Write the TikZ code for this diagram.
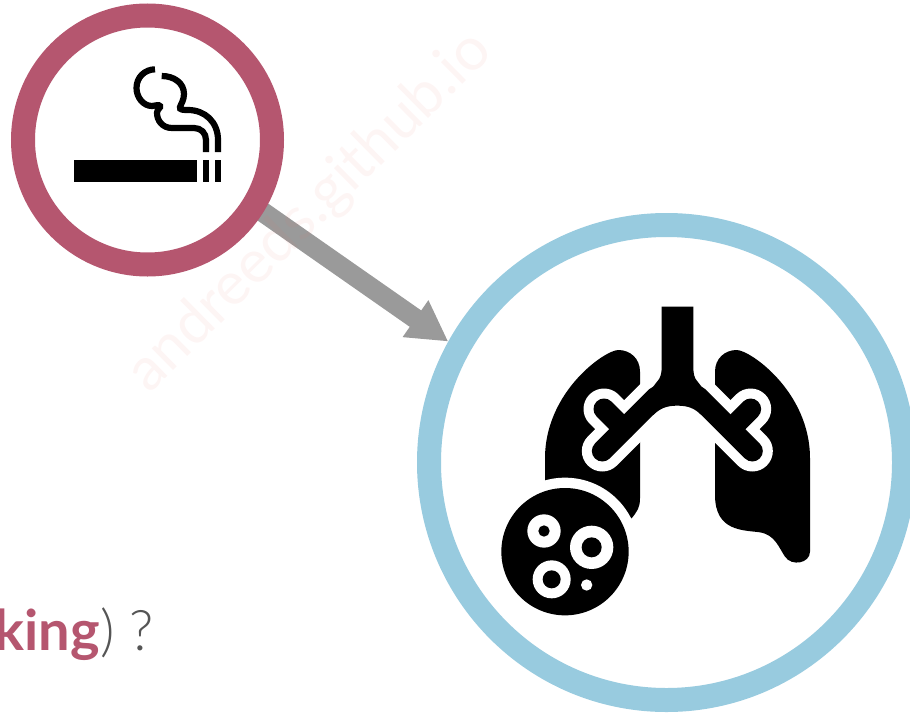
\documentclass[tikz,border=0pt]{standalone}
\usepackage{fontspec}
\setmainfont{Lato}
\newfontfamily\thinFont{Lato Light}
\usetikzlibrary{
  arrows.meta,
  backgrounds
}
\definecolor{riskRose}{HTML}{B5566F}
\definecolor{organBlue}{HTML}{98CBDF}
\definecolor{arrowGray}{HTML}{9A9A9A}
\definecolor{textGray}{HTML}{555555}
\definecolor{stampPink}{HTML}{E8706A}
\tikzset{
  ringNode/.style={circle, line width=24pt, fill=white, inner sep=0pt},
  causeArrow/.style={
    -{Triangle[length=40pt,width=42pt]},
    line width=20pt,
    arrowGray,
    shorten <=-8pt
  },
  smokeLine/.style={line width=6.2pt, black},
  airwayHalo/.style={white, line width=41pt, line cap=round, line join=round},
  airwayCore/.style={black, line width=21pt, line cap=round, line join=round},
  stampText/.style={
    font=\fontsize{60}{70}\selectfont,
    text=stampPink,
    text opacity=0.07,
    inner sep=0pt
  }
}
\begin{document}
\begin{tikzpicture}[x=1pt,y=-1pt]
  \useasboundingbox (0,0) rectangle (910,712);
  \clip (0,0) rectangle (910,712);

  \node[ringNode, draw=riskRose, minimum size=249pt] (smoker) at (147.5,140) {};
  \node[ringNode, draw=organBlue, minimum size=451pt+24pt] (cancer) at (666.5,462.5) {};
  \begin{scope}[on background layer]
    \draw[causeArrow] (smoker.-32.7) -- (cancer.151);
  \end{scope}

  % cigarette
  \fill (74,160) rectangle (197.3,182);
  \fill (203.3,160) rectangle (209,182);
  \fill (215,160) rectangle (221,182);
  \draw[smokeLine] (218,152) -- (218,140)
    .. controls (218,122) and (205,110) .. (188,110)
    .. controls (184,110) and (179,110) .. (180,107)
    .. controls (181,104) and (184,100) .. (184,94)
    .. controls (184,83) and (174,76) .. (161.7,76);
  \draw[smokeLine] (206,152) -- (206,140)
    .. controls (206,133) and (201,128) .. (194,128)
    -- (172,128)
    .. controls (162,128) and (157,120) .. (157,113)
    .. controls (157,109) and (161,108) .. (160,106)
    .. controls (159,104) and (155,106) .. (152,106)
    .. controls (143,106) and (136.5,97) .. (136.5,88)
    .. controls (136.5,77) and (145,69.5) .. (155,69.3);

  % lungs, in units of a third of a pixel
  \begin{scope}[shift={(490,295)}, x=1/3*1pt, y=-1/3*1pt]
    \fill (450,230) .. controls (450,190) and (420,165) .. (385,165)
      .. controls (345,165) and (165,290) .. (165,490)
      -- (165,640) -- (425,670)
      .. controls (440,650) and (450,640) .. (450,610) -- cycle;
    \fill (675,230) .. controls (675,190) and (705,165) .. (740,165)
      .. controls (780,165) and (960,290) .. (960,490)
      -- (960,770)
      .. controls (960,805) and (905,815) .. (885,785)
      .. controls (865,755) and (855,720) .. (810,712)
      .. controls (760,705) and (675,710) .. (675,600) -- cycle;
    \foreach \airwayStyle in {airwayHalo, airwayCore} {
      \draw[\airwayStyle] (337,468) -- (500,305);
      \draw[\airwayStyle] (402,402) -- (342,342);
      \draw[\airwayStyle] (787,468) -- (624,305);
      \draw[\airwayStyle] (722,402) -- (782,342);
    }
    \fill (515,35) -- (515,220)
      .. controls (515,235) and (510,250) .. (505,255)
      -- (470,300) -- (490,360)
      .. controls (510,340) and (530,332) .. (562,332)
      .. controls (594,332) and (614,340) .. (634,360)
      -- (654,300) -- (619,255)
      .. controls (614,250) and (610,235) .. (610,220)
      -- (610,35) -- cycle;
    \fill[white] (225,770) circle[radius=222];
    \fill (225,770) circle[radius=191];
    \fill[white] (162,708) circle[radius=50];
    \fill (162,708) circle[radius=17];
    \fill[white] (305,757) circle[radius=65];
    \fill (305,757) circle[radius=30];
    \fill[white] (185,853) circle[radius=57];
    \fill (185,853) circle[radius=27];
    \fill[white] (290,870) circle[radius=17];
  \end{scope}

  \node[anchor=base east, inner sep=0pt, font=\fontsize{56}{60}\selectfont\bfseries, text=riskRose]
    (riskWord) at (100,650) {king};
  \node[anchor=base west, inner sep=0pt, font=\thinFont\fontsize{56}{60}\selectfont, text=textGray]
    (riskEnd) at (riskWord.base east) {) ?};

  \node[stampText, rotate=44.6] (stamp) at (310,212) {andreeds.github.io};
\end{tikzpicture}
\end{document}
